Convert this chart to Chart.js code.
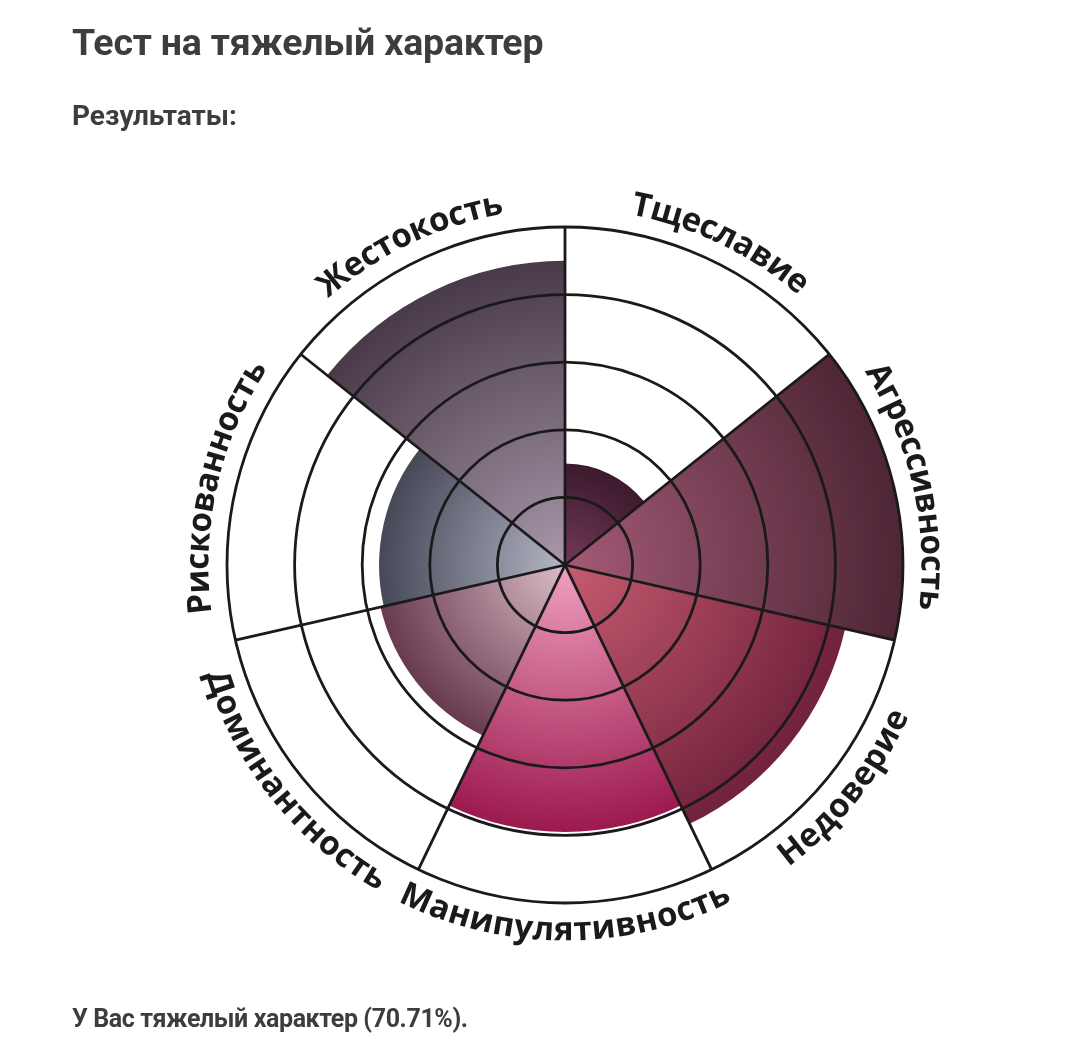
<!DOCTYPE html>
<html lang="ru">
<head>
<meta charset="utf-8">
<title>Тест на тяжелый характер</title>
<script src="https://cdn.jsdelivr.net/npm/chart.js@4.4.1/dist/chart.umd.min.js"></script>
<style>
  html, body { margin: 0; padding: 0; background: #fff; }
  body { width: 1080px; height: 1044px; position: relative; overflow: hidden; font-family: Roboto, "Noto Sans", sans-serif; color: #3d3d3d; }
  #chart { position: absolute; left: 0; top: 0; }
  .txt { position: absolute; left: 72px; margin: 0; font-weight: 700; white-space: nowrap; line-height: 1; z-index: 2; }
  #title { top: 24px; font-size: 37.5px; letter-spacing: -0.2px; }
  #sub { top: 102px; font-size: 28px; }
  #result { top: 1006px; font-size: 25px; letter-spacing: -0.4px; }
</style>
</head>
<body>
<h1 class="txt" id="title">Тест на тяжелый характер</h1>
<p class="txt" id="sub">Результаты:</p>
<canvas id="chart" width="1080" height="1044"></canvas>
<p class="txt" id="result">У Вас тяжелый характер (70.71%).</p>

<script>
/* -------------------- DATA -------------------- */
const categories = ["Тщеславие", "Агрессивность", "Недоверие", "Манипулятивность",
                    "Доминантность", "Рискованность", "Жестокость"];
const scores = [30, 100, 85, 79, 56, 55, 90];
const scaleMax = 100;
const scaleStep = 20;

/* -------------------- COLOURS (center -> rim) -------------------- */
const innerColors = ["#74395a", "#a45a76", "#c65c70", "#f0a0c0", "#dcbcc6", "#b4b6c6", "#a898aa"];
const outerColors = ["#3c1a2c", "#4e2636", "#72223c", "#9c1a4e", "#683a50", "#464858", "#483a48"];

/* -------------------- CURVED CATEGORY LABELS -------------------- */
const curvedLabels = {
  id: "curvedLabels",
  afterDraw(chart) {
    const r = chart.scales.r;
    const ctx = chart.ctx;
    const labels = chart.data.labels;
    const step = 2 * Math.PI / labels.length;
    const rad = r.drawingArea + 28;

    ctx.save();
    ctx.font = 'bold 33px "Open Sans"';
    ctx.fillStyle = "#1a1a1a";
    ctx.textAlign = "center";
    ctx.textBaseline = "middle";

    labels.forEach((label, i) => {
      const mid = (i + 0.5) * step;
      const chars = [...label];
      const widths = chars.map(c => ctx.measureText(c).width);
      const total = widths.reduce((a, b) => a + b, 0);
      const outward = Math.cos(mid) > 0;
      const dir = outward ? 1 : -1;
      let a = mid - dir * total / (2 * rad);

      chars.forEach((c, k) => {
        const half = widths[k] / (2 * rad);
        a += dir * half;
        ctx.save();
        ctx.translate(r.xCenter + rad * Math.sin(a), r.yCenter - rad * Math.cos(a));
        ctx.rotate(outward ? a : a + Math.PI);
        ctx.fillText(c, 0, 0);
        ctx.restore();
        a += dir * half;
      });
    });
    ctx.restore();
  }
};

/* -------------------- CHART -------------------- */
function segmentFill(c) {
  const i = c.dataIndex;
  const r = c.chart.scales.r;
  if (c.type !== "data" || !r || r.xCenter === undefined) return outerColors[i] || "#666";
  const rad = Math.max(r.getDistanceFromCenterForValue(c.raw), 1);
  const g = c.chart.ctx.createRadialGradient(r.xCenter, r.yCenter, 0, r.xCenter, r.yCenter, rad);
  g.addColorStop(0, innerColors[i]);
  g.addColorStop(1, outerColors[i]);
  return g;
}

new Chart(document.getElementById("chart"), {
  type: "polarArea",
  data: {
    labels: categories,
    datasets: [{
      data: scores,
      backgroundColor: segmentFill,
      borderWidth: 0
    }]
  },
  options: {
    responsive: false,
    animation: false,
    layout: { padding: { left: 227, top: 227, right: 177, bottom: 141 } },
    plugins: { legend: { display: false }, tooltip: { enabled: false } },
    scales: {
      r: {
        min: 0,
        max: scaleMax,
        startAngle: 0,
        ticks: { display: false, stepSize: scaleStep, z: 1 },
        grid: { circular: true, color: "#1a1a1a", lineWidth: 2.8, z: 1 },
        angleLines: { display: true, color: "#1a1a1a", lineWidth: 2.8 },
        pointLabels: { display: false }
      }
    }
  },
  plugins: [curvedLabels]
});
</script>
</body>
</html>
